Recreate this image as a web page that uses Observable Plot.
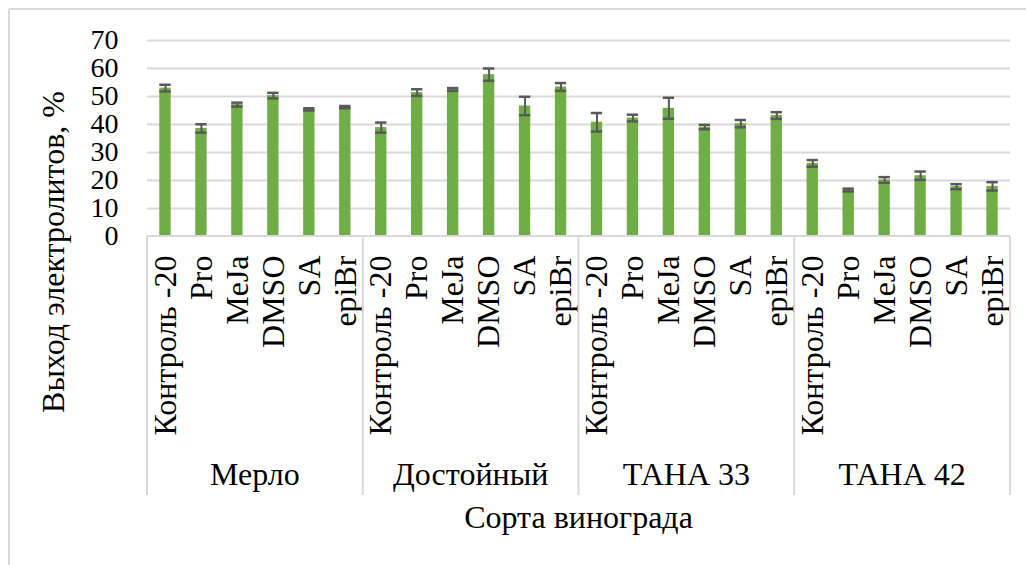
<!DOCTYPE html>
<html>
<head>
<meta charset="utf-8">
<script src="https://cdn.jsdelivr.net/npm/d3@7"></script>
<script src="https://cdn.jsdelivr.net/npm/@observablehq/plot@0.6"></script>
<style>
  html, body { margin: 0; padding: 0; background: #fff; }
  svg { display: block; }
</style>
</head>
<body>
<script>
// Сорта винограда и варианты обработки
const groups = ["Мерло", "Достойный", "ТАНА 33", "ТАНА 42"];
const treatments = ["Контроль -20", "Pro", "MeJa", "DMSO", "SA", "epiBr"];

// Выход электролитов, % (среднее) и стандартная ошибка
const merlot     = [53.0, 38.6, 47.1, 50.3, 45.4, 46.2];
const merlotErr  = [1.2, 1.5, 0.7, 1.0, 0.4, 0.4];
const dostoiny    = [38.9, 51.4, 52.5, 57.8, 46.6, 53.4];
const dostoinyErr = [1.8, 1.2, 0.5, 2.2, 3.3, 1.4];
const tana33     = [40.8, 42.3, 45.8, 39.1, 40.3, 43.2];
const tana33Err  = [3.3, 1.2, 3.75, 0.8, 1.3, 1.2];
const tana42     = [26.1, 16.6, 20.2, 21.7, 17.8, 17.9];
const tana42Err  = [1.2, 0.5, 1.0, 1.5, 0.9, 1.5];

const yTicks = [0, 10, 20, 30, 40, 50, 60, 70];

const seriesValues = [merlot, dostoiny, tana33, tana42];
const seriesErrors = [merlotErr, dostoinyErr, tana33Err, tana42Err];

const rows = [];
groups.forEach((g, gi) => {
  treatments.forEach((t, ti) => {
    rows.push({
      key: g + "|" + t,
      group: g,
      treatment: t,
      value: seriesValues[gi][ti],
      err: seriesErrors[gi][ti]
    });
  });
});

const W = 1026, H = 565;
const FONT = "Liberation Serif, Tinos, Times New Roman, DejaVu Serif, serif";
const GRID = "#d9d9d9";
const BAR_INSET = 12.3;

const chart = Plot.plot({
  width: W,
  height: H,
  marginLeft: 147,
  marginRight: 16,
  marginTop: 40,
  marginBottom: 329,
  style: { fontFamily: FONT, fontSize: "30px", color: "#000", background: "#fff" },
  x: { domain: rows.map(d => d.key), padding: 0, round: false },
  y: { domain: [0, 70] },
  marks: [
    Plot.ruleY(yTicks.filter(v => v > 0), { stroke: GRID, strokeWidth: 2 }),
    Plot.barY(rows, { x: "key", y: "value", fill: "#70ad47", insetLeft: BAR_INSET, insetRight: BAR_INSET }),
    Plot.ruleX(rows, { x: "key", y1: d => d.value - d.err, y2: d => d.value + d.err, stroke: "#595959", strokeWidth: 2 }),
    Plot.tickY(rows, { x: "key", y: d => d.value - d.err, stroke: "#595959", strokeWidth: 2.5, insetLeft: BAR_INSET, insetRight: BAR_INSET }),
    Plot.tickY(rows, { x: "key", y: d => d.value + d.err, stroke: "#595959", strokeWidth: 2.5, insetLeft: BAR_INSET, insetRight: BAR_INSET }),
    Plot.axisY({ ticks: yTicks, tickSize: 0, tickPadding: 29, label: null, fontSize: 28, fontFamily: FONT }),
    Plot.axisX({
      tickFormat: k => k.split("|")[1],
      tickRotate: -90,
      tickSize: 0,
      tickPadding: 19,
      label: null,
      fontSize: 32,
      fontFamily: FONT
    })
  ]
});

document.body.appendChild(chart);

// Групповая ось: рамка под столбцами, разделители и названия сортов
const svg = d3.select(chart);
const xs = chart.scale("x");
const ys = chart.scale("y");
const y0 = ys.apply(0);
const boxBottom = 495;
const firstKey = g => g + "|" + treatments[0];
const lastKey = g => g + "|" + treatments[treatments.length - 1];
const edges = groups.map(g => xs.apply(firstKey(g)));
edges.push(xs.apply(lastKey(groups[groups.length - 1])) + xs.bandwidth);

const deco = svg.append("g").attr("fill", "none").attr("stroke", GRID).attr("stroke-width", 2);
deco.append("line").attr("x1", edges[0]).attr("x2", edges[edges.length - 1]).attr("y1", y0).attr("y2", y0);
edges.forEach(x => {
  deco.append("line").attr("x1", x).attr("x2", x).attr("y1", y0).attr("y2", boxBottom);
});

// Внешняя рамка области диаграммы
deco.append("line").attr("x1", 9).attr("x2", W).attr("y1", 9).attr("y2", 9);
deco.append("line").attr("x1", 9).attr("x2", 9).attr("y1", 9).attr("y2", H);

const labels = svg.append("g").style("font-family", FONT).attr("fill", "#000");
groups.forEach((g, i) => {
  labels.append("text")
    .attr("x", (edges[i] + edges[i + 1]) / 2)
    .attr("y", 485)
    .attr("text-anchor", "middle")
    .attr("font-size", 32)
    .text(g);
});

labels.append("text")
  .attr("x", (edges[0] + edges[edges.length - 1]) / 2)
  .attr("y", 528)
  .attr("text-anchor", "middle")
  .attr("font-size", 32)
  .text("Сорта винограда");

labels.append("text")
  .attr("transform", "translate(64,252) rotate(-90)")
  .attr("text-anchor", "middle")
  .attr("font-size", 32)
  .text("Выход электролитов, %");
</script>
</body>
</html>
